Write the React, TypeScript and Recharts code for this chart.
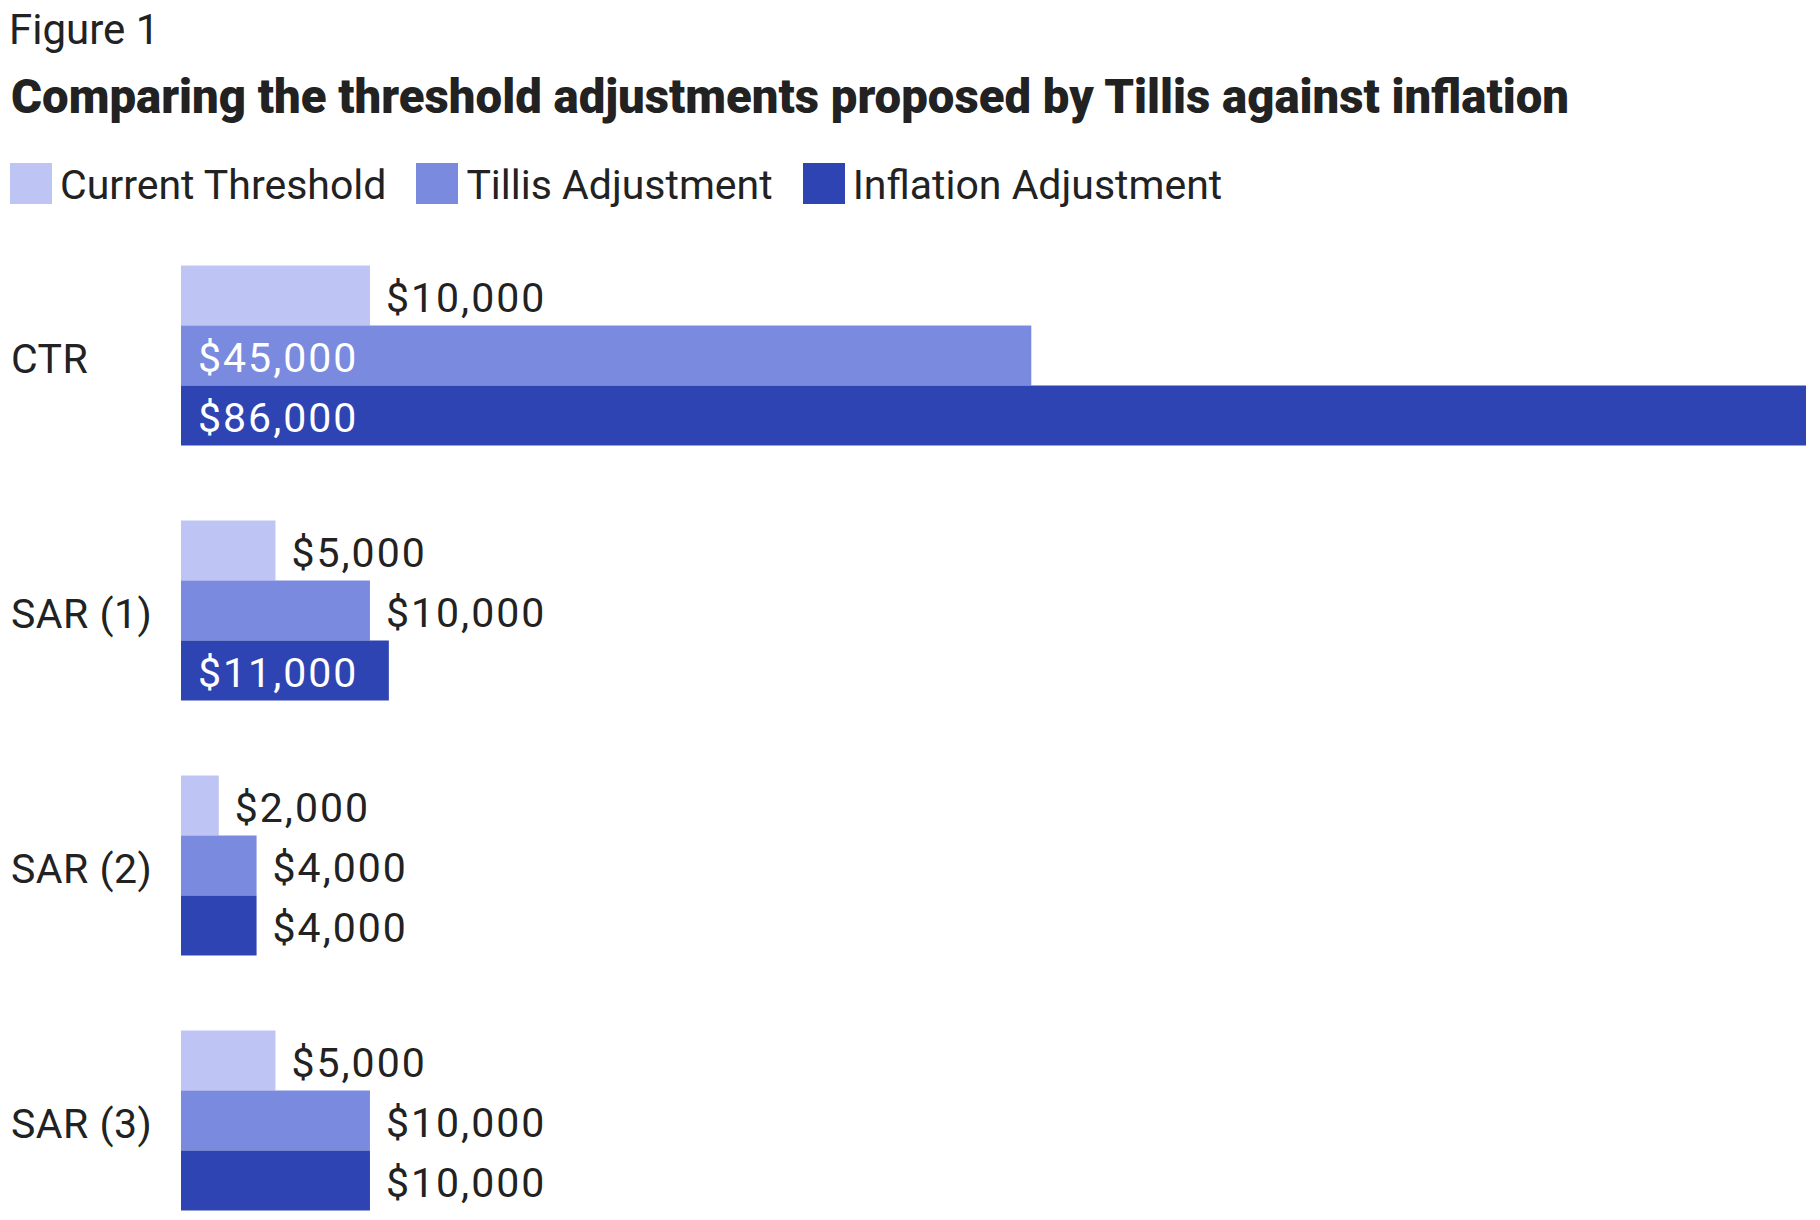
import { BarChart, Bar, XAxis, YAxis, Legend, LabelList } from 'recharts'

const categories = ['CTR', 'SAR (1)', 'SAR (2)', 'SAR (3)']
const currentThreshold = [10000, 5000, 2000, 5000]
const tillisAdjustment = [45000, 10000, 4000, 10000]
const inflationAdjustment = [86000, 11000, 4000, 10000]

const seriesNames = ['Current Threshold', 'Tillis Adjustment', 'Inflation Adjustment']
const seriesColors = ['#BEC5F5', '#7A8ADF', '#2F44B3']

const data = categories.map((name, i) => ({
  name,
  current: currentThreshold[i],
  tillis: tillisAdjustment[i],
  inflation: inflationAdjustment[i],
}))

const FONT = 'Roboto, "Liberation Sans", sans-serif'
const INK = '#222222'

const fmt = (v: number) => `$${v.toLocaleString('en-US')}`

// wide bars get the label inside in white, the rest sit just past the bar end
function ValueLabel(props: any) {
  const { x, y, width, height, value } = props
  const v = Number(value)
  const inside = v > 10000
  return (
    <text
      x={inside ? x + 17 : x + width + 16}
      y={y + height / 2 + 16}
      fill={inside ? '#ffffff' : INK}
      fontFamily={FONT}
      fontSize={41}
      letterSpacing={2}
    >
      {fmt(v)}
    </text>
  )
}

function CategoryTick(props: any) {
  const { y, payload } = props
  return (
    <text x={11} y={y + 18} fill={INK} fontFamily={FONT} fontSize={41} letterSpacing={0.5}>
      {payload.value}
    </text>
  )
}

// keep the series order (recharts sorts legend items by name otherwise)
function LegendContent(props: any) {
  const items = [...(props.payload || [])].sort(
    (a: any, b: any) => seriesNames.indexOf(a.value) - seriesNames.indexOf(b.value)
  )
  return (
    <div style={{ display: 'flex', alignItems: 'flex-start', fontFamily: FONT }}>
      {items.map((it: any) => (
        <div key={it.value} style={{ display: 'flex', alignItems: 'flex-start', marginRight: 30 }}>
          <div style={{ width: 42, height: 41, background: it.color, marginRight: 8 }} />
          <span style={{ fontSize: 41, lineHeight: '45px', color: INK, whiteSpace: 'nowrap' }}>{it.value}</span>
        </div>
      ))}
    </div>
  )
}

export default function App() {
  return (
    <div
      style={{
        position: 'absolute',
        left: 0,
        top: 0,
        width: 1820,
        height: 1220,
        overflow: 'hidden',
        background: '#ffffff',
      }}
    >
      <svg width={1820} height={130} style={{ position: 'absolute', left: 0, top: 0 }}>
        <text x={9} y={44} fill={INK} fontFamily={FONT} fontSize={42}>
          Figure 1
        </text>
        <text
          x={11}
          y={113}
          fill={INK}
          fontFamily={FONT}
          fontSize={48}
          fontWeight={900}
          textLength={1558}
          lengthAdjust="spacingAndGlyphs"
        >
          Comparing the threshold adjustments proposed by Tillis against inflation
        </text>
      </svg>
      <div style={{ position: 'absolute', left: 0, top: 0 }}>
        <BarChart
          width={1820}
          height={1248}
          data={data}
          layout="vertical"
          barGap={0}
          margin={{ top: 227.5, right: 14, bottom: 0.5, left: 0 }}
        >
          <XAxis type="number" domain={[0, 86000]} hide />
          <YAxis
            type="category"
            dataKey="name"
            width={181}
            axisLine={false}
            tickLine={false}
            tick={<CategoryTick />}
          />
          <Legend
            layout="vertical"
            align="center"
            verticalAlign="middle"
            wrapperStyle={{ top: 163, left: 10, width: 1500, height: 45 }}
            content={<LegendContent />}
          />
          <Bar dataKey="current" name={seriesNames[0]} fill={seriesColors[0]} barSize={60} isAnimationActive={false}>
            <LabelList dataKey="current" content={<ValueLabel />} />
          </Bar>
          <Bar dataKey="tillis" name={seriesNames[1]} fill={seriesColors[1]} barSize={60} isAnimationActive={false}>
            <LabelList dataKey="tillis" content={<ValueLabel />} />
          </Bar>
          <Bar dataKey="inflation" name={seriesNames[2]} fill={seriesColors[2]} barSize={60} isAnimationActive={false}>
            <LabelList dataKey="inflation" content={<ValueLabel />} />
          </Bar>
        </BarChart>
      </div>
    </div>
  )
}
